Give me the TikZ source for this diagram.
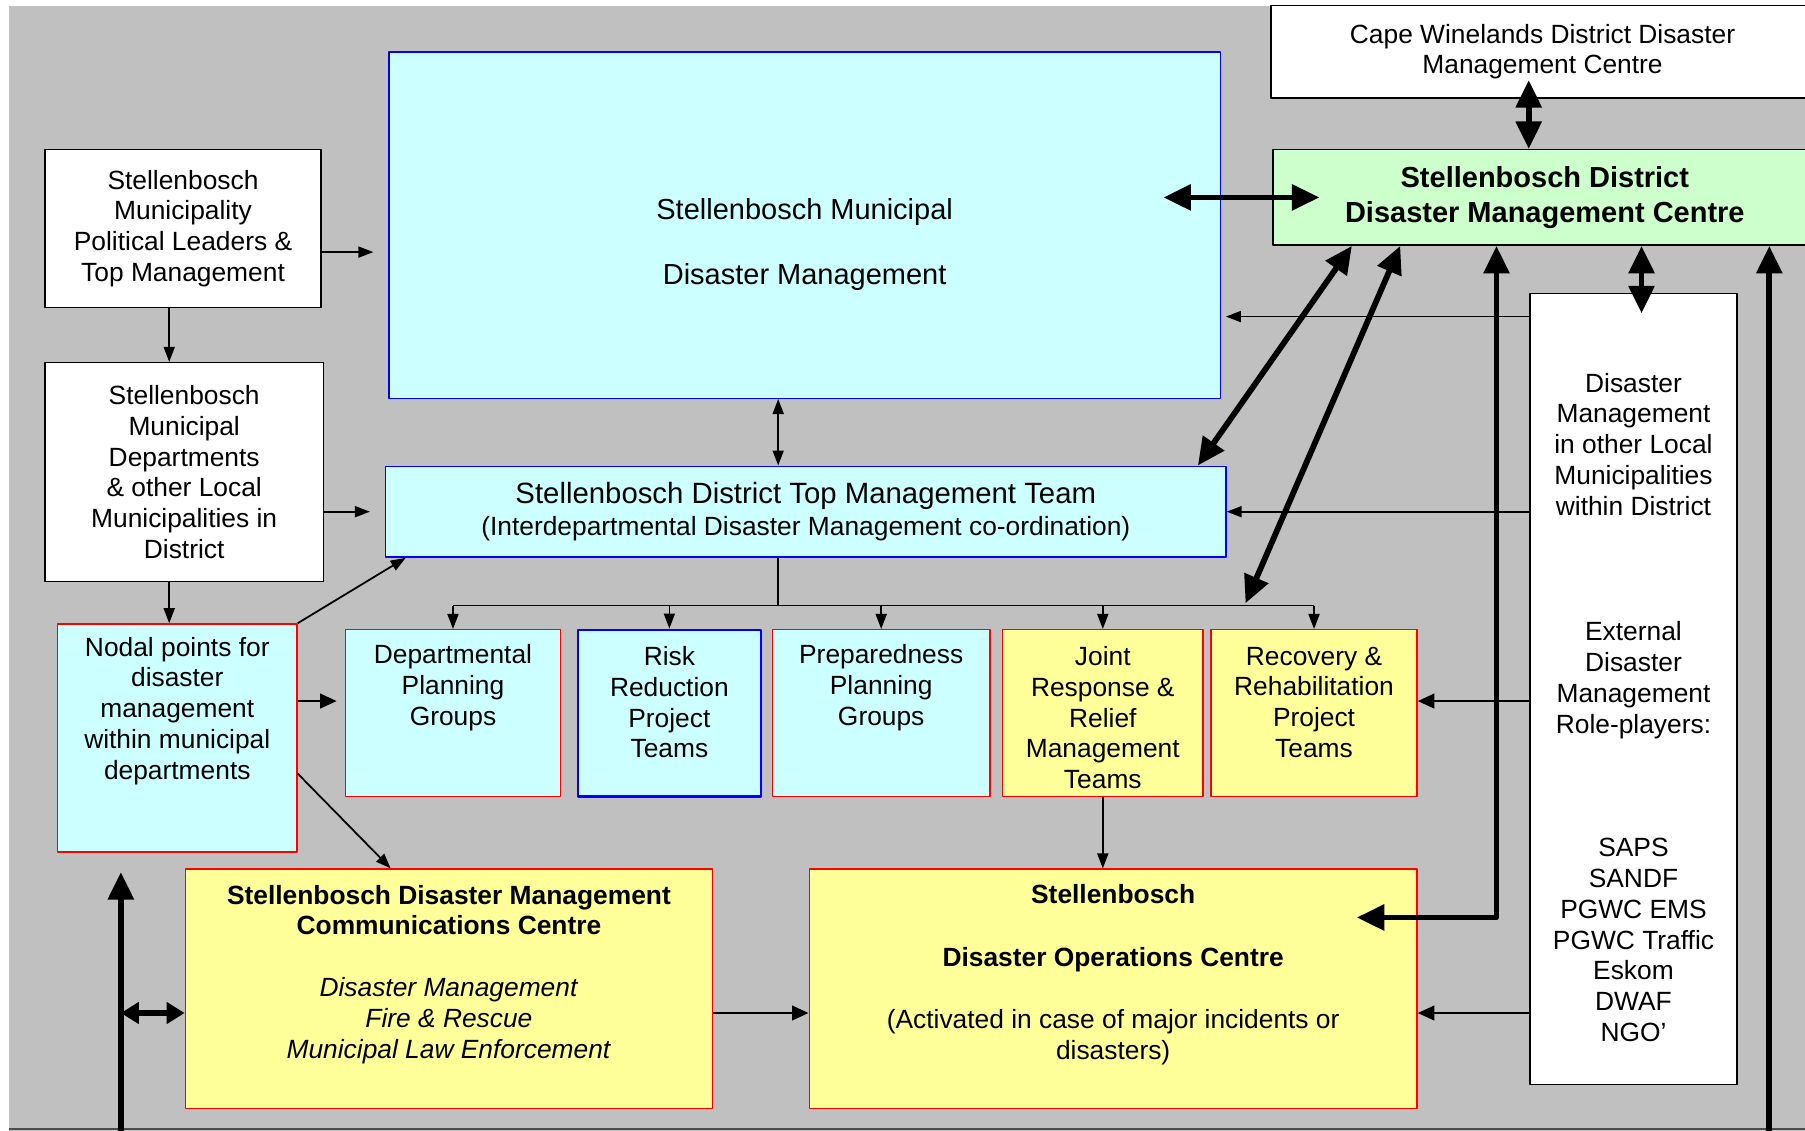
\documentclass[tikz,border=0pt]{standalone}
\usepackage{fontspec}
\setmainfont{Liberation Sans}
\usetikzlibrary{arrows.meta}
\definecolor{bggray}{HTML}{C0C0C0}
\definecolor{paleblue}{HTML}{CCFFFF}
\definecolor{paleyellow}{HTML}{FFFF99}
\definecolor{palegreen}{HTML}{CCFFCC}
\newcommand{\boxfont}{\fontsize{15pt}{17.5pt}\selectfont}
\newcommand{\headfont}{\fontsize{16.5pt}{19.6pt}\selectfont}
\def\un{0.023024cm}

\begin{document}
\begin{tikzpicture}[x=\un, y=-\un, line join=round,
	box/.style={rectangle, draw, line width=0.8pt, inner sep=0pt},
	wh/.style 2 args={minimum width=#1*\un, minimum height=#2*\un},
	whitebox/.style={box, fill=white},
	cyanbox/.style={box, draw=blue, fill=paleblue},
	redbox/.style={box, draw=red, fill=paleblue},
	yelbox/.style={box, draw=red, fill=paleyellow},
	txt/.style={align=center, inner sep=0pt, font=\boxfont},
	arr/.style={line width=1pt, -{Triangle[length=0.3cm,width=0.22cm]}},
	arrs/.style={line width=1pt, {Triangle[length=0.3cm,width=0.22cm]}-{Triangle[length=0.3cm,width=0.22cm]}},
	midarr/.style={line width=1.4pt, -{Triangle[length=0.33cm,width=0.29cm]}},
	fat/.style={line width=3.3pt, -{Triangle[length=0.55cm,width=0.5cm]}},
	fatboth/.style={line width=3.3pt, {Triangle[length=0.55cm,width=0.5cm]}-{Triangle[length=0.55cm,width=0.5cm]}}]
	\useasboundingbox (0,0) rectangle (1568,982);
	\fill[bggray] (8,5) rectangle (1580,990);
	\draw[line width=1pt, black!70] (8,981) -- (1580,981);
	% lanes for the connectors
	\coordinate (lx) at (147,0);
	\coordinate (xl) at (105,990);
	\coordinate (xc) at (1328,0);
	\coordinate (xo) at (1426,0);
	\coordinate (xr) at (1537,990);
	\coordinate (xd) at (1300,797);
	\coordinate (bus) at (676,526);
	\coordinate (bj) at (1082,524);
	\coordinate (y1) at (0,219);
	\coordinate (yS) at (0,275);
	\coordinate (yR) at (0,609);
	\coordinate (yO) at (0,880);
	% boxes
	\node[whitebox, wh={472}{80}, txt] (cape) at (1340,45) {Cape Winelands District Disaster\\Management Centre};
	\node[box, fill=palegreen, wh={472}{83}, txt, font=\headfont\bfseries] (sddmc) at (1342,171.5) {Stellenbosch District\\Disaster Management Centre};
	\node[cyanbox, wh={722}{301}] (smdm) at (699,195.5) {};
	\node[whitebox, wh={240}{137}, txt] (pol) at (159,198.5) {Stellenbosch\\Municipality\\Political Leaders \&\\Top Management};
	\node[whitebox, wh={242}{190}, txt] (dept) at (160,410) {Stellenbosch\\Municipal\\Departments\\\& other Local\\Municipalities in\\District};
	\node[cyanbox, wh={730}{79}, txt, font=\fontsize{16.7pt}{18.3pt}\selectfont] (tmt) at (700,444.5) {Stellenbosch District Top Management Team\\{\fontsize{15pt}{18.3pt}\selectfont (Interdepartmental Disaster Management co-ordination)}};
	\node[whitebox, wh={180}{687}] (other) at (1419,598.5) {};
	\node[redbox, wh={208}{198}] (nodal) at (154,641) {};
	\node[redbox, wh={187}{145}] (dpg) at (393.5,619.5) {};
	\node[cyanbox, line width=1.3pt, wh={159}{145}] (rrp) at (581.5,619.5) {};
	\node[redbox, wh={189}{145}] (ppg) at (765.5,619.5) {};
	\node[yelbox, wh={174}{145}] (jrr) at (958,619.5) {};
	\node[yelbox, wh={179}{145}] (rrt) at (1141.5,619.5) {};
	\node[yelbox, wh={458}{208}] (comms) at (390,859) {};
	\node[yelbox, wh={528}{208}] (ops) at (967,859) {};
	% texts
	\node[txt, font=\headfont] (smdmT) at (699,212.5) {Stellenbosch Municipal\\[17.6pt]Disaster Management};
	\node[txt] (otherT) at (1419,614.5) {Disaster\\Management\\in other Local\\Municipalities\\within District\\[54pt]External\\Disaster\\Management\\Role-players:\\[53pt]SAPS\\SANDF\\PGWC EMS\\PGWC Traffic\\Eskom\\DWAF\\NGO’};
	\node[txt] (nodalT) at (154,617.5) {Nodal points for\\disaster\\management\\within municipal\\departments};
	\node[txt] (dpgT) at (393.5,597.5) {Departmental\\Planning\\Groups};
	\node[txt] (rrpT) at (581.5,610) {Risk\\Reduction\\Project\\Teams};
	\node[txt] (ppgT) at (765.5,597.5) {Preparedness\\Planning\\Groups};
	\node[txt] (jrrT) at (958,623.5) {Joint\\Response \&\\Relief\\Management\\Teams};
	\node[txt] (rrtT) at (1141.5,610) {Recovery \&\\Rehabilitation\\Project\\Teams};
	\node[txt] (commsT) at (390,846.5) {\textbf{Stellenbosch Disaster Management}\\\textbf{Communications Centre}\\[17.8pt]\textit{Disaster Management}\\\textit{Fire \& Rescue}\\\textit{Municipal Law Enforcement}};
	\node[txt] (opsT) at (967,846.5) {\textbf{Stellenbosch}\\[18.5pt]\textbf{Disaster Operations Centre}\\[17.8pt](Activated in case of major incidents or\\disasters)};
	% thin connectors
	\draw[arr, shorten >=0.3cm] (pol.east |- y1) -- (smdm.west |- y1);
	\draw[arr] (pol.south -| lx) -- (dept.north -| lx);
	\draw[arr, shorten >=0.3cm] (dept.east |- tmt) -- (tmt.west);
	\draw[arr] (dept.south -| lx) -- (nodal.north -| lx);
	\draw[arr] (nodal.north east) -- ([xshift=18*\un]tmt.south west);
	\draw[arr] ([yshift=-31*\un]nodal.east) -- ([xshift=179*\un]comms.north west);
	\draw[arrs] (smdm.south -| bus) -- (tmt.north -| bus);
	\draw[line width=1pt] (tmt.south -| bus) -- (bus) (bus -| dpg) -- (bus -| rrt);
	\foreach \b in {dpg,rrp,ppg,jrr,rrt}
		\draw[arr] (bus -| \b.north) -- (\b.north);
	\draw[arr, shorten >=0.1cm] (other.west |- yS) -- (smdm.east |- yS);
	\draw[arr] (other.west |- tmt) -- (tmt.east);
	\draw[arr] (jrr.south) -- (jrr.south |- ops.north);
	\draw[midarr, shorten >=0.16cm] (nodal.east |- yR) -- (dpg.west |- yR);
	\draw[midarr] (other.west |- yR) -- (rrt.east |- yR);
	\draw[midarr] (other.west |- yO) -- (ops.east |- yO);
	\draw[midarr] (comms.east |- yO) -- (ops.west |- yO);
	% thick connectors
	\draw[fatboth, shorten <=-1.15cm, shorten >=-0.94cm] (smdm.east |- sddmc.west) -- (sddmc.west);
	\draw[fatboth, shorten <=-0.37cm] (cape.south -| xc) -- (sddmc.north -| xc);
	\draw[fatboth, shorten >=-0.41cm] (sddmc.south -| xo) -- (other.north -| xo);
	\draw[fatboth] ([xshift=69*\un]sddmc.south west) -- ([xshift=-25*\un]tmt.north east);
	\draw[fatboth] ([xshift=111*\un]sddmc.south west) -- (bj);
	\draw[fatboth, shorten <=-1.22cm] (ops.east |- xd) -- (xd) -- (xd |- sddmc.south);
	\draw[fat] (xr) -- (xr |- sddmc.south);
	\draw[fat, shorten >=0.39cm] (xl) -- (xl |- nodal.south);
	\draw[line width=3.3pt, {Triangle[length=0.36cm,width=0.42cm]}-{Triangle[length=0.36cm,width=0.42cm]}] (xl |- yO) -- (comms.west |- yO);
\end{tikzpicture}
\end{document}
